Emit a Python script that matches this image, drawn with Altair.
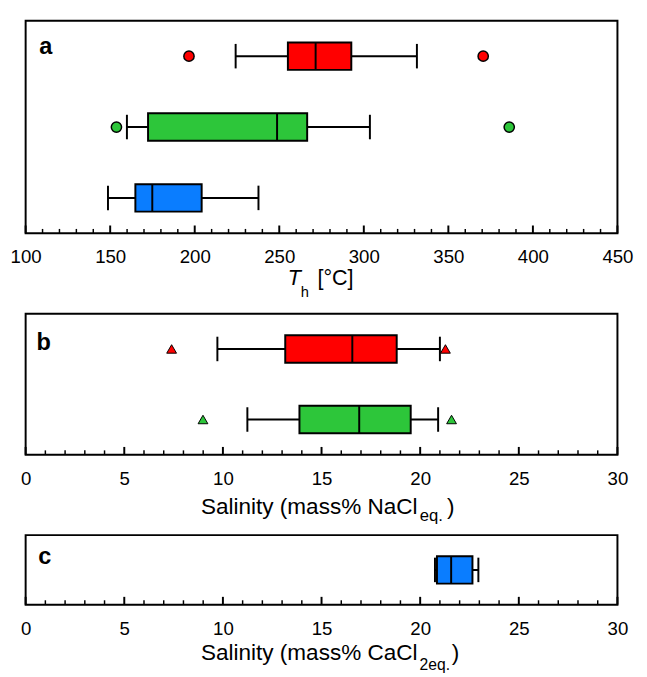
import altair as alt
import pandas as pd

FONT = "Liberation Sans"

# ---------------- data ----------------
group_names = ["red", "green", "blue"]
group_colors = ["#FF0000", "#2DC63A", "#0A7DFF"]

# Panel a: homogenization temperature Th (°C)
a_groups = ["red", "green", "blue"]
a_wmin = [224.2, 159.9, 148.7]
a_q1 = [255.1, 172.4, 164.9]
a_med = [271.5, 248.7, 174.9]
a_q3 = [292.6, 266.5, 204.1]
a_wmax = [331.4, 303.6, 237.7]
a_out_group = ["red", "red", "green", "green"]
a_out_value = [196.6, 370.6, 153.7, 386.0]
a_major = [100, 150, 200, 250, 300, 350, 400, 450]
a_minor = [v for v in range(110, 450, 10) if v % 50]

# Panel b: salinity (mass% NaCl eq.)
b_groups = ["red", "green"]
b_wmin = [9.72, 11.24]
b_q1 = [13.16, 13.88]
b_med = [16.56, 16.91]
b_q3 = [18.81, 19.52]
b_wmax = [21.0, 20.91]
b_out_group = ["red", "red", "green", "green"]
b_out_value = [7.40, 21.28, 8.99, 21.59]

# Panel c: salinity (mass% CaCl2 eq.)
c_groups = ["blue"]
c_wmin = [20.75]
c_q1 = [20.85]
c_med = [21.57]
c_q3 = [22.65]
c_wmax = [22.95]
c_out_group = []
c_out_value = []

sal_major = [0, 5, 10, 15, 20, 25, 30]
sal_minor = [v for v in range(1, 30) if v % 5]

W = 604


def panel(groups, wmin, q1, med, q3, wmax, out_g, out_v, marker, msize, mstroke,
          domain, majors, minors, H, letter, letter_xy, title_parts):
    df = pd.DataFrame(dict(g=groups, wmin=wmin, q1=q1, med=med, q3=q3, wmax=wmax))
    xs = alt.Scale(domain=domain, nice=False, zero=False)
    ax = alt.Axis(values=majors, ticks=False, domain=False, grid=False,
                  labelFontSize=19, labelFont=FONT, labelColor="black",
                  labelPadding=15, labelFlush=False, title=None, format="d")
    y = alt.Y("g:N", axis=None, sort=groups,
              scale=alt.Scale(domain=groups, paddingInner=0, paddingOuter=0))
    col = alt.Color("g:N", legend=None,
                    scale=alt.Scale(domain=group_names, range=group_colors))
    base = alt.Chart(df)

    whisk = base.mark_rule(color="black", strokeWidth=2).encode(
        x=alt.X("wmin:Q", scale=xs, axis=ax), x2="wmax:Q", y=y)
    caps = base.transform_fold(["wmin", "wmax"]).mark_tick(
        color="black", thickness=2, size=25, opacity=1).encode(
        x=alt.X("value:Q", scale=xs, axis=ax), y=y)
    box = base.mark_bar(height=28, stroke="black", strokeWidth=2, opacity=1).encode(
        x=alt.X("q1:Q", scale=xs, axis=ax), x2="q3:Q", y=y, fill=col)
    medl = base.mark_tick(color="black", thickness=2, size=28, opacity=1).encode(
        x=alt.X("med:Q", scale=xs, axis=ax), y=y)
    layers = [whisk, caps, box, medl]

    if out_v:
        odf = pd.DataFrame(dict(g=out_g, v=out_v))
        outl = alt.Chart(odf).mark_point(
            shape=marker, filled=True, size=msize, stroke="black",
            strokeWidth=mstroke, opacity=1).encode(
            x=alt.X("v:Q", scale=xs, axis=ax), y=y, fill=col)
        layers.append(outl)

    tmaj = alt.Chart(pd.DataFrame(dict(v=majors))).mark_rule(
        color="black", strokeWidth=2).encode(
        x=alt.X("v:Q", scale=xs, axis=ax), y=alt.value(H), y2=alt.value(H - 8))
    tmin = alt.Chart(pd.DataFrame(dict(v=minors))).mark_rule(
        color="black", strokeWidth=1.5).encode(
        x=alt.X("v:Q", scale=xs, axis=ax), y=alt.value(H), y2=alt.value(H - 4.5))
    layers += [tmaj, tmin]

    lt = alt.Chart(pd.DataFrame(dict(t=[letter]))).mark_text(
        font=FONT, fontSize=24, fontWeight="bold", align="left",
        baseline="alphabetic", color="black").encode(
        text="t:N", x=alt.value(letter_xy[0]), y=alt.value(letter_xy[1]))
    layers.append(lt)

    for (txt, tx, ty, fs, style) in title_parts:
        tt = alt.Chart(pd.DataFrame(dict(t=[txt]))).mark_text(
            font=FONT, fontSize=fs, fontStyle=style, align="left",
            baseline="alphabetic", color="black").encode(
            text="t:N", x=alt.value(tx), y=alt.value(ty))
        layers.append(tt)

    return alt.layer(*layers).properties(width=W, height=H)


pa = panel(a_groups, a_wmin, a_q1, a_med, a_q3, a_wmax, a_out_group, a_out_value,
           "circle", 110, 1.5, [100, 450], a_major, a_minor, 217, "a", (14, 34),
           [("T", 267.5, 270, 22, "italic"),
            ("h", 280.7, 282, 15, "normal"),
            ("[°C]", 297.8, 270, 22, "normal")])

pb = panel(b_groups, b_wmin, b_q1, b_med, b_q3, b_wmax, b_out_group, b_out_value,
           "triangle-up", 100, 1, [0, 30], sal_major, sal_minor, 144, "b", (11, 37),
           [("Salinity (mass% NaCl", 179, 204.7, 23, "normal"),
            ("eq.", 402.3, 212, 17, "normal"),
            (")", 430, 204.7, 23, "normal")])

pc = panel(c_groups, c_wmin, c_q1, c_med, c_q3, c_wmax, c_out_group, c_out_value,
           "circle", 110, 1.5, [0, 30], sal_major, sal_minor, 71, "c", (13, 29),
           [("Salinity (mass% CaCl", 179, 127.7, 23, "normal"),
            ("2eq.", 402, 137.7, 16, "normal"),
            (")", 435, 127.7, 23, "normal")])

chart = alt.vconcat(pa, pb, pc, spacing=82, bounds="flush").properties(
    padding={"left": 1, "top": 5, "right": 5, "bottom": 5}
).configure(background="white", font=FONT).configure_view(
    stroke="black", strokeWidth=2)

chart.save("out.html", embed_options={"renderer": "svg", "actions": False})
